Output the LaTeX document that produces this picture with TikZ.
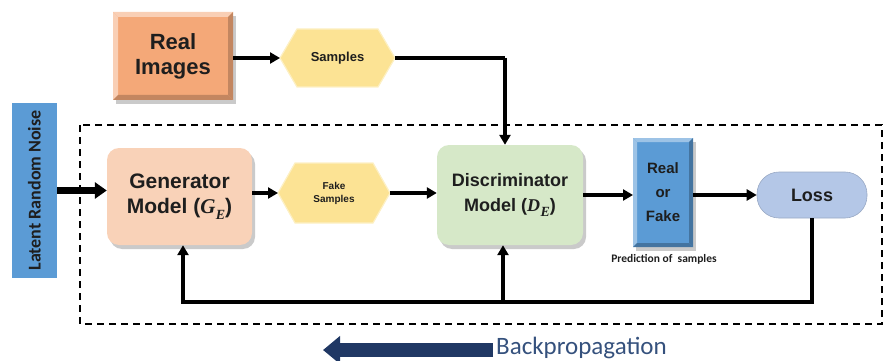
\documentclass[tikz,border=0pt]{standalone}
\usepackage{fontspec}
\setmainfont{Liberation Sans}
\newfontfamily\calibri{Carlito}
\newfontfamily\symserif{Liberation Serif}
\usetikzlibrary{arrows.meta,shadows,calc}

\definecolor{noiseblue}{HTML}{5B9BD5}
\definecolor{realorange}{HTML}{F4A878}
\definecolor{hexyellow}{HTML}{FCE394}
\definecolor{genpeach}{HTML}{F9D2B8}
\definecolor{discgreen}{HTML}{D6E8C8}
\definecolor{lossblue}{HTML}{B4C7E7}
\definecolor{navyarrow}{HTML}{203864}
\definecolor{bptext}{HTML}{35517D}
\definecolor{ink}{HTML}{1E1E1E}

% light/dark edge strips that give a box a bevelled look
\newcommand\bevelbox[4]{%
  \fill[#2] (#1.north west) -- (#1.north east) -- ($(#1.north east)+(-#4,#4)$) -- ($(#1.north west)+(#4,#4)$) -- cycle;
  \fill[#2] (#1.north west) -- (#1.south west) -- ($(#1.south west)+(#4,-#4)$) -- ($(#1.north west)+(#4,#4)$) -- cycle;
  \fill[#3] (#1.south west) -- (#1.south east) -- ($(#1.south east)+(-#4,-#4)$) -- ($(#1.south west)+(#4,-#4)$) -- cycle;
  \fill[#3] (#1.north east) -- (#1.south east) -- ($(#1.south east)+(-#4,-#4)$) -- ($(#1.north east)+(-#4,#4)$) -- cycle;
}
% pointed hexagon filling the frame of a node, tips at west and east
\newcommand\hexfill[2]{%
  \filldraw[fill=hexyellow, draw=hexyellow!55!white, line width=1.2pt]
    (#1.west) -- ($(#1.north west)+(#2,0)$) -- ($(#1.north east)+(-#2,0)$) -- (#1.east)
    -- ($(#1.south east)+(-#2,0)$) -- ($(#1.south west)+(#2,0)$) -- cycle;
}
% italic model symbol with a lowered subscript
\newcommand\modelsym[2]{{\symserif\bfseries\itshape #1\kern0.02em\raisebox{-0.28em}{\fontsize{14}{14}\selectfont #2}}}

\begin{document}
\begin{tikzpicture}[x=1pt,y=-1pt,
  flow/.style={line width=3.5pt, draw=black, -{Triangle[length=10pt,width=11pt]}},
  bigflow/.style={line width=7pt, draw=black, -{Triangle[length=12pt,width=16pt]}},
  fbline/.style={line width=3.5pt, draw=black, line join=miter},
  label/.style={text=ink, align=center, font=\bfseries},
  frame/.style={inner sep=0pt, outer sep=0pt},
  shadowed/.style={drop shadow={shadow xshift=3pt, shadow yshift=-4pt, opacity=0.35, fill=black!60}},
]
\useasboundingbox (0,0) rectangle (884,361);

% framing dashed region
\draw[line width=1.6pt, dash pattern=on 7pt off 5pt] (80,125) rectangle (882,324);

% latent noise source
\node[fill=noiseblue, rotate=90, minimum width=175pt, minimum height=45pt,
      inner sep=0pt, font=\calibri\bfseries\fontsize{18}{20}\selectfont, text=ink]
  (noise) at (34.5,190.5) {Latent Random Noise};

% real images block
\node[fill=realorange, shadowed, minimum width=120pt, minimum height=88pt, frame]
  (real) at (173,56) {};
\bevelbox{real}{realorange!55!white}{realorange!80!black}{5}
\node[label, font=\bfseries\fontsize{22}{25}\selectfont] at (real) {Real\\Images};

% samples
\node[frame, minimum width=115pt, minimum height=58pt] (samp) at (337.5,58) {};
\hexfill{samp}{17}
\node[label, font=\bfseries\fontsize{13}{15}\selectfont] at (samp) {Samples};

% generator
\node[fill=genpeach, shadowed, rounded corners=12pt, minimum width=145pt, minimum height=97pt,
      label, font=\bfseries\fontsize{21}{25}\selectfont]
  (gen) at (179.5,196.5) {Generator\\Model (\modelsym{G}{E})};

% fake samples
\node[frame, minimum width=112pt, minimum height=60pt] (fake) at (334,193) {};
\hexfill{fake}{17}
\node[label, font=\bfseries\fontsize{10}{13}\selectfont] at (fake) {Fake\\Samples};

% discriminator
\node[fill=discgreen, shadowed, rounded corners=12pt, minimum width=146pt, minimum height=100pt,
      label, font=\bfseries\fontsize{18}{25}\selectfont]
  (disc) at (510,195) {Discriminator\\Model (\modelsym{D}{E})};

% real-or-fake decision
\node[fill=noiseblue, shadowed, minimum width=60pt, minimum height=109pt, frame]
  (rf) at (663,192.5) {};
\bevelbox{rf}{noiseblue!60!white}{noiseblue!75!black}{4}
\node[label, font=\bfseries\fontsize{15}{24}\selectfont] at (rf) {Real\\or\\Fake};
\node[text=ink, font=\calibri\bfseries\fontsize{11.5}{13}\selectfont]
  (pred) at (664,259) {Prediction of \ samples};

% loss
\node[fill=lossblue, draw=lossblue!85!black, line width=0.6pt, rounded corners=22pt,
      minimum width=110pt, minimum height=46pt, label, font=\bfseries\fontsize{18}{20}\selectfont]
  (loss) at (812,195) {Loss};

% forward connections
\draw[flow] (real.east |- samp) -- (samp.west);
\coordinate (sc) at (505,58);
\draw[fbline] (samp.east) -- (sc);
\draw[flow] (sc) -- (sc |- disc.north);
\draw[bigflow] (noise.south) -- (noise.south -| gen.west);
\draw[flow] (gen.east |- fake) -- (fake.west);
\draw[flow] (fake.east) -- (fake.east -| disc.west);
\draw[flow] (disc.east) -- (disc.east -| rf.west);
\draw[flow] (rf.east |- loss) -- (loss.west);

% feedback from the loss
\coordinate (fbr) at (812,302);
\coordinate (fbl) at (183,302);
\coordinate (fbm) at (503,302);
\draw[fbline] (loss.south) -- (fbr) -- (fbl) -- ($(fbl)+(0,-10)$);
\draw[flow] (fbl) -- (fbl |- gen.south);
\draw[flow] (fbm) -- (fbm |- disc.south);

% backpropagation legend
\coordinate (bpA) at (493,350);
\coordinate (bpB) at (323,350);
\draw[line width=14pt, draw=navyarrow, -{Triangle[length=17pt,width=27pt]}] (bpA) -- (bpB);
\node[anchor=west, text=bptext, font=\calibri\fontsize{25}{28}\selectfont, inner sep=0pt]
  (bp) at (496,348) {Backpropagation};
\end{tikzpicture}
\end{document}
